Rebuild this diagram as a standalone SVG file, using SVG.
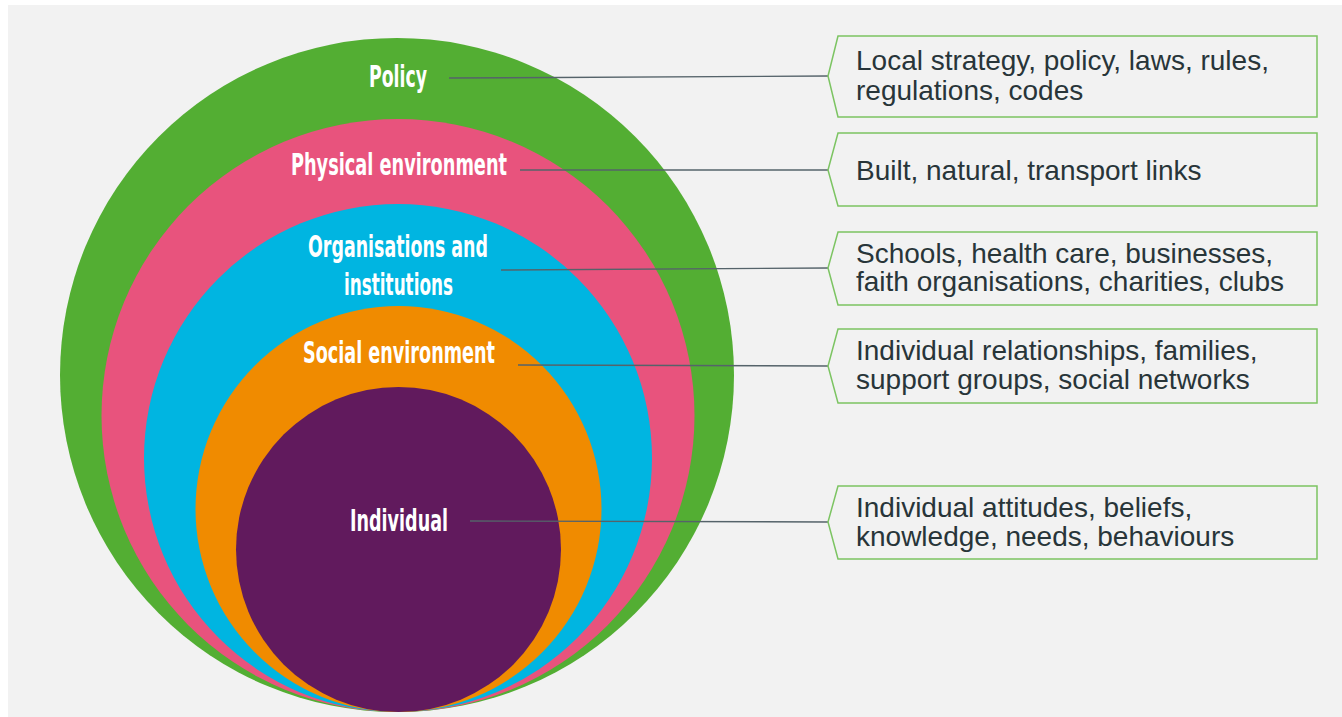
<svg xmlns="http://www.w3.org/2000/svg" width="1342" height="717" viewBox="0 0 1342 717">
<defs>
<style>
.lbl{font-family:"Liberation Sans Narrow","DejaVu Sans Condensed","Liberation Sans",sans-serif;font-weight:bold;font-size:30px;fill:#ffffff;text-anchor:middle}
.box{fill:#f2f2f2;stroke:#7cc462;stroke-width:1.5}
.desc{font-family:"Liberation Sans",Arial,sans-serif;font-size:28px;fill:#283539}
.conn{stroke:#55636a;stroke-width:1.4;fill:none}
</style>
</defs>
<rect x="0" y="0" width="1342" height="717" fill="#ffffff"/>
<rect x="8" y="5" width="1334" height="712" fill="#f2f2f2"/>
<g id="policy"><circle cx="397" cy="375" r="337" fill="#53ae33"/></g>
<g id="physical"><circle cx="398" cy="415.5" r="296.5" fill="#e8537d"/></g>
<g id="organisations"><circle cx="398" cy="458" r="254" fill="#00b5e1"/></g>
<g id="social"><circle cx="398.5" cy="509" r="203" fill="#f08b00"/></g>
<g id="individual"><circle cx="398.5" cy="549.5" r="162.5" fill="#611a5d"/></g>
<g id="connectors">
<line class="conn" x1="449" y1="78" x2="828" y2="76"/>
<line class="conn" x1="520" y1="170" x2="828" y2="170"/>
<line class="conn" x1="501" y1="270" x2="828" y2="268"/>
<line class="conn" x1="518" y1="365" x2="828" y2="366"/>
<line class="conn" x1="470" y1="521" x2="828" y2="522"/>
</g>
<g id="labels">
<text class="lbl" x="398" y="87" textLength="58" lengthAdjust="spacingAndGlyphs">Policy</text>
<text class="lbl" x="399" y="175" textLength="216" lengthAdjust="spacingAndGlyphs">Physical environment</text>
<text class="lbl" x="398" y="257" textLength="180" lengthAdjust="spacingAndGlyphs">Organisations and</text>
<text class="lbl" x="398.5" y="295" textLength="109" lengthAdjust="spacingAndGlyphs">institutions</text>
<text class="lbl" x="399" y="363" textLength="192" lengthAdjust="spacingAndGlyphs">Social environment</text>
<text class="lbl" x="399" y="531" textLength="98" lengthAdjust="spacingAndGlyphs">Individual</text>
</g>
<g id="box-policy">
<polygon class="box" points="838,36 1317,36 1317,117 838,117 828,76"/>
<text class="desc" x="856" y="70">Local strategy, policy, laws, rules,</text>
<text class="desc" x="856" y="100">regulations, codes</text>
</g>
<g id="box-physical">
<polygon class="box" points="838,133 1317,133 1317,206 838,206 828,170"/>
<text class="desc" x="856" y="180">Built, natural, transport links</text>
</g>
<g id="box-organisations">
<polygon class="box" points="838,232 1317,232 1317,305 838,305 828,268"/>
<text class="desc" x="856" y="263">Schools, health care, businesses,</text>
<text class="desc" x="856" y="291">faith organisations, charities, clubs</text>
</g>
<g id="box-social">
<polygon class="box" points="838,329 1317,329 1317,403 838,403 828,366"/>
<text class="desc" x="856" y="360">Individual relationships, families,</text>
<text class="desc" x="856" y="389">support groups, social networks</text>
</g>
<g id="box-individual">
<polygon class="box" points="838,486 1317,486 1317,559 838,559 828,522"/>
<text class="desc" x="856" y="517">Individual attitudes, beliefs,</text>
<text class="desc" x="856" y="546">knowledge, needs, behaviours</text>
</g>
</svg>
